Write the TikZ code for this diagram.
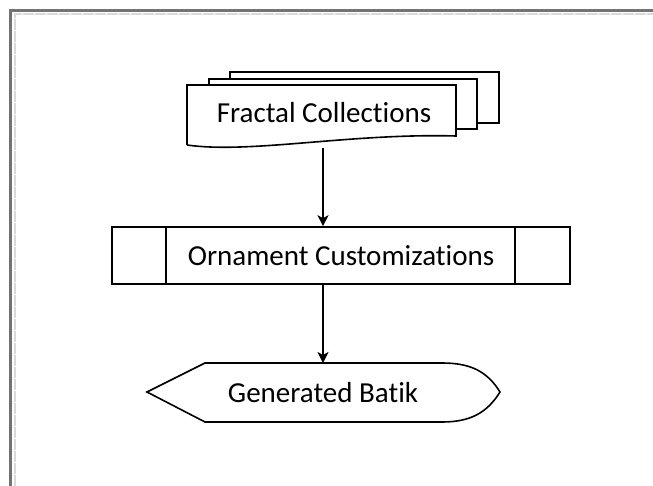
\documentclass[tikz,border=0pt]{standalone}
\usepackage{fontspec}
\setmainfont{Carlito}[Ligatures={NoCommon,NoRare}]
\usetikzlibrary{arrows.meta,calc}

\begin{document}
\begin{tikzpicture}[x=1pt,y=-1pt,>={Stealth[length=11pt,width=11pt,inset=3pt]},line join=miter]
  \tikzset{
    outline/.style={line width=1.6pt},
    flow/.style={->,line width=1.6pt},
    caption/.style={font=\fontsize{29}{34}\selectfont,inner sep=0pt},
    pageedge/.style={line width=3pt,black!55},
    pagerule/.style={line width=2pt,black!15,dash pattern=on 11pt off 1pt}
  }
  \useasboundingbox (0,0) rectangle (653,486);

  % page edge, top and left only
  \draw[pageedge] (10.5,486) -- (10.5,10.5) -- (653,10.5);
  \draw[pagerule] (14.5,486) -- (14.5,14.5) -- (653,14.5);

  % multi-document: two sheets behind, the front one with a wavy foot
  \draw[outline] (230,79) -- (230,72) -- (499,72) -- (499,123) -- (477,123);
  \draw[outline] (209,85) -- (209,79) -- (477,79) -- (477,129) -- (456,129);
  \draw[outline,fill=white] (187,145) -- (187,85) -- (456,85) -- (456,136)
    .. controls (350,133) and (250,154) .. (187,145);
  \node[caption] (frac) at (324,113) {Fractal Collections};
  \coordinate (fracfoot) at (323,148);

  % predefined process
  \node[outline,draw,minimum width=458pt,minimum height=57pt,inner sep=0pt] (orn) at (341,255.5) {};
  \draw[outline] ($(orn.north west)+(55,0)$) -- ($(orn.south west)+(55,0)$);
  \draw[outline] ($(orn.north east)+(-56,0)$) -- ($(orn.south east)+(-56,0)$);
  \node[caption] (ornt) at (orn.center) {Ornament Customizations};

  % display
  \draw[outline] (147,392) -- (205,363) -- (442,363)
    .. controls (470,363) and (487,371) .. (500,392)
    .. controls (487,413) and (470,422) .. (442,422) -- (205,422) -- cycle;
  \node[caption] (batik) at (323,393) {Generated Batik};
  \coordinate (batiktop) at (323,363);

  \draw[flow] (fracfoot) -- (fracfoot |- orn.north);
  \draw[flow] (orn.south -| fracfoot) -- (batiktop);
\end{tikzpicture}
\end{document}
